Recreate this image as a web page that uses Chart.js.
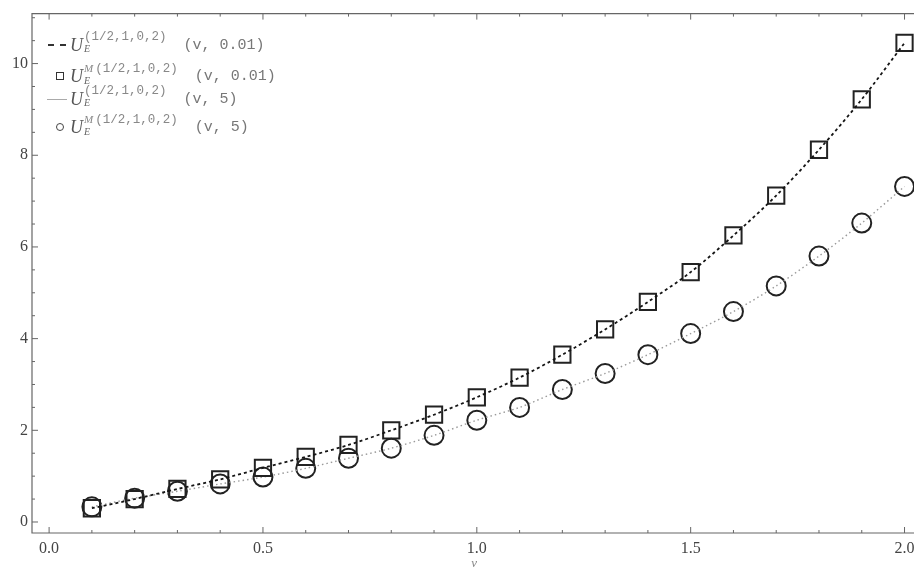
<!DOCTYPE html>
<html>
<head>
<meta charset="utf-8">
<script src="https://cdn.jsdelivr.net/npm/chart.js@4.4.0/dist/chart.umd.min.js"></script>
<style>
html, body { margin: 0; padding: 0; background: #fff; overflow: hidden; }
#wrap { position: relative; width: 914px; height: 571px; overflow: hidden; }
#chart { position: absolute; left: 0; top: 0; }
.ent { position: absolute; left: 46px; height: 26px; display: flex; align-items: center; white-space: nowrap; }
.sym { width: 22px; height: 12px; display: flex; align-items: center; justify-content: center; }
.u { font-family: 'Liberation Serif', serif; font-style: italic; font-size: 18px; color: #555; margin-left: 2px; }
.ss { display: inline-flex; flex-direction: column; line-height: 11px; margin-left: 1px; margin-top: -4px; }
.sp { font-family: 'Liberation Mono', monospace; font-size: 12.5px; color: #888; }
.sp i { font-family: 'Liberation Serif', serif; font-size: 11px; margin-right: 2px; }
.sb { font-family: 'Liberation Serif', serif; font-style: italic; font-size: 10px; color: #666; }
.arg { font-family: 'Liberation Mono', monospace; font-size: 15px; color: #777; margin-left: 17px; }
</style>
</head>
<body>
<div id="wrap">
  <canvas id="chart" width="930" height="571"></canvas>
  <div id="legend"></div>
</div>
<script>
// data
const vValues = [0.1, 0.2, 0.3, 0.4, 0.5, 0.6, 0.7, 0.8, 0.9, 1.0,
                 1.1, 1.2, 1.3, 1.4, 1.5, 1.6, 1.7, 1.8, 1.9, 2.0];
const uSmall = [0.30, 0.50, 0.72, 0.93, 1.18, 1.42, 1.68, 2.00, 2.34, 2.72,
                3.15, 3.65, 4.20, 4.80, 5.45, 6.25, 7.12, 8.12, 9.22, 10.45];
const uLarge = [0.33, 0.52, 0.67, 0.83, 0.98, 1.17, 1.39, 1.61, 1.89, 2.22,
                2.50, 2.89, 3.24, 3.65, 4.11, 4.59, 5.15, 5.80, 6.52, 7.32];
const xTicks = [0.0, 0.5, 1.0, 1.5, 2.0];
const yTicks = [0, 2, 4, 6, 8, 10];
const legendLabels = [
  { sym: 'dash',   m: false, arg: '(v, 0.01)' },
  { sym: 'square', m: true,  arg: '(v, 0.01)' },
  { sym: 'line',   m: false, arg: '(v, 5)' },
  { sym: 'circle', m: true,  arg: '(v, 5)' }
];
const superIndex = '(1/2,1,0,2)';

function pts(ys) {
  return vValues.map((v, i) => ({ x: v, y: ys[i] }));
}

// Legend (html so the sub/superscripts stay as text)
const legendTops = [32, 63, 86, 114];
const legend = document.getElementById('legend');
legendLabels.forEach((l, i) => {
  const row = document.createElement('div');
  row.className = 'ent';
  row.style.top = legendTops[i] + 'px';
  let sym = '';
  if (l.sym === 'dash') sym = '<span style="width:18px;border-top:2px dashed #333"></span>';
  if (l.sym === 'square') sym = '<span style="width:6px;height:6px;border:1.5px solid #333;margin-left:6px"></span>';
  if (l.sym === 'line') sym = '<span style="width:20px;border-top:1.5px solid #aaa"></span>';
  if (l.sym === 'circle') sym = '<span style="width:6px;height:6px;border:1.5px solid #444;border-radius:50%;margin-left:6px"></span>';
  row.innerHTML = '<span class="sym">' + sym + '</span>' +
    '<span class="u">U</span>' +
    '<span class="ss"><span class="sp">' + (l.m ? '<i>M</i>' : '') + superIndex + '</span>' +
    '<span class="sb">E</span></span>' +
    '<span class="arg">' + l.arg + '</span>';
  legend.appendChild(row);
});

// frame with inward ticks, Mathematica style
const framePlugin = {
  id: 'frame',
  beforeDatasetsDraw(chart) {
    const { ctx, chartArea: a, scales: { x, y } } = chart;
    ctx.save();
    ctx.strokeStyle = '#666';
    ctx.lineWidth = 1.2;
    ctx.beginPath();
    ctx.moveTo(a.right, a.top);
    ctx.lineTo(a.left, a.top);
    ctx.lineTo(a.left, a.bottom);
    ctx.lineTo(a.right, a.bottom);
    ctx.stroke();
    ctx.lineWidth = 1;
    ctx.beginPath();
    for (let k = 0; k <= 20; k++) {
      const px = x.getPixelForValue(k / 10);
      const len = k % 5 === 0 ? 6 : 3;
      ctx.moveTo(px, a.bottom); ctx.lineTo(px, a.bottom - len);
      ctx.moveTo(px, a.top); ctx.lineTo(px, a.top + len);
    }
    for (let k = 0; k <= 22; k++) {
      const py = y.getPixelForValue(k / 2);
      const len = k % 4 === 0 ? 6 : 3;
      ctx.moveTo(a.left, py); ctx.lineTo(a.left + len, py);
    }
    ctx.stroke();
    ctx.restore();
  }
};

const ctx = document.getElementById('chart').getContext('2d');
new Chart(ctx, {
  type: 'line',
  data: {
    datasets: [{
      label: 'U_E (v, 0.01)',
      data: pts(uSmall),
      borderColor: '#151515',
      borderWidth: 1.8,
      borderDash: [3, 3],
      pointRadius: 0,
      tension: 0.3,
      fill: false
    }, {
      label: 'U_E^M (v, 0.01)',
      data: pts(uSmall),
      showLine: false,
      pointStyle: 'rect',
      pointRadius: 11.5,
      borderColor: '#222',
      borderWidth: 2,
      backgroundColor: 'rgba(0,0,0,0)'
    }, {
      label: 'U_E (v, 5)',
      data: pts(uLarge),
      borderColor: '#9a9a9a',
      borderWidth: 1.4,
      borderDash: [1.5, 3],
      pointRadius: 0,
      tension: 0.3,
      fill: false
    }, {
      label: 'U_E^M (v, 5)',
      data: pts(uLarge),
      showLine: false,
      pointStyle: 'circle',
      pointRadius: 9.5,
      borderColor: '#222',
      borderWidth: 2,
      backgroundColor: 'rgba(0,0,0,0)'
    }]
  },
  options: {
    responsive: false,
    animation: false,
    layout: { padding: { top: 12, right: 0, left: 0, bottom: 0 } },
    plugins: {
      legend: { display: false },
      tooltip: { enabled: false }
    },
    scales: {
      x: {
        type: 'linear',
        min: -0.04,
        max: 2.028,
        grid: { display: false, drawTicks: false },
        border: { display: false },
        afterBuildTicks: s => { s.ticks = xTicks.map(v => ({ value: v })); },
        afterFit: s => { s.height = 38; },
        ticks: {
          padding: 6,
          maxRotation: 0,
          color: '#444',
          font: { family: 'Liberation Serif', size: 16 },
          callback: v => v.toFixed(1)
        },
        title: {
          display: true,
          text: 'v',
          color: '#888',
          padding: { top: 0, bottom: 0 },
          font: { family: 'Liberation Serif', size: 13, style: 'italic' }
        }
      },
      y: {
        min: -0.24,
        max: 11.09,
        grid: { display: false, drawTicks: false },
        border: { display: false },
        afterBuildTicks: s => { s.ticks = yTicks.map(v => ({ value: v })); },
        afterFit: s => { s.width = 32; },
        ticks: {
          padding: 4,
          color: '#444',
          font: { family: 'Liberation Serif', size: 16 }
        }
      }
    }
  },
  plugins: [framePlugin]
});
</script>
</body>
</html>
